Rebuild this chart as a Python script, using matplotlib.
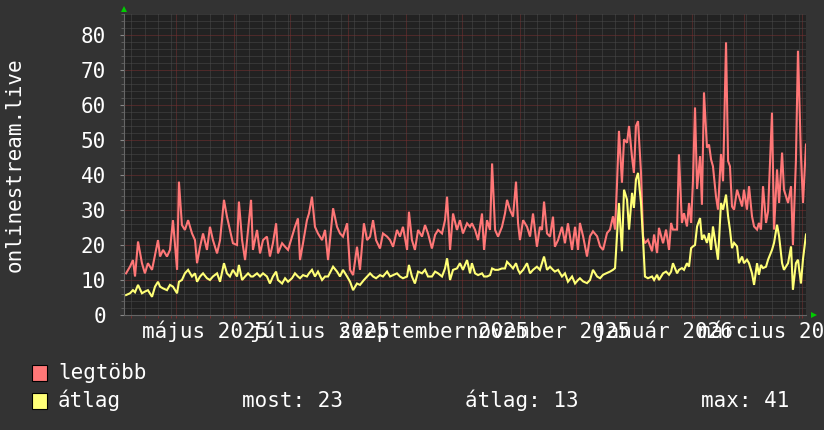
import numpy as np
import matplotlib
matplotlib.use('Agg')
import matplotlib.pyplot as plt
import matplotlib.dates as mdates
from matplotlib.ticker import MultipleLocator, NullFormatter
from matplotlib.patches import Rectangle
from datetime import datetime

###    Adatok    ###
start = datetime(2025, 4, 3)
end = datetime(2026, 4, 3)

# napok a kezdet ota
days = [1.1, 3.2, 4.8, 5.9, 7.5, 9.6, 11.2, 12.8, 15.0, 16.6, 18.2, 19.3, 20.9, 23.0, 24.6, 26.2,
        28.4, 29.4, 31.0, 32.6, 34.3, 36.4, 38.0, 39.1, 40.7, 42.3, 44.4, 46.0, 47.6, 49.8, 51.4,
        53.5, 55.1, 56.7, 58.3, 60.5, 61.5, 63.2, 64.8, 66.4, 68.0, 69.0, 71.2, 72.8, 74.4, 76.5,
        78.1, 79.7, 81.4, 82.4, 84.6, 86.2, 87.8, 89.9, 91.5, 93.1, 94.2, 95.8, 97.9, 99.0, 100.6,
        102.2, 103.8, 106.0, 107.6, 109.2, 111.9, 114.0, 115.6, 117.2, 119.4, 121.0, 122.6, 124.7,
        126.3, 128.4, 130.1, 131.7, 133.3, 134.9, 137.0, 138.6, 140.8, 142.4, 144.0, 146.1, 147.7,
        149.3, 151.5, 152.5, 154.1, 155.7, 157.4, 159.5, 161.1, 162.7, 164.8, 166.5, 168.1, 170.2,
        171.8, 172.9, 174.5, 176.1, 178.2, 179.8, 181.4, 183.6, 185.2, 186.2, 187.9, 189.5, 191.6,
        192.7, 194.3, 195.9, 197.0, 198.6, 200.2, 202.3, 203.9, 205.0, 206.6, 208.2, 209.8, 210.9,
        211.9, 213.6, 215.7, 217.3, 218.9, 221.0, 222.6, 223.7, 224.8, 226.4, 228.0, 229.6, 230.6,
        232.3, 234.4, 236.0, 237.6, 239.8, 241.4, 243.0, 244.0, 245.7, 247.8, 249.4, 251.0, 253.2,
        254.8, 256.4, 258.5, 260.1, 261.7, 262.8, 263.8, 264.9, 266.5, 267.6, 269.2, 270.3, 271.9,
        272.9, 274.0, 275.1, 276.7, 277.8, 278.8, 280.4, 282.6, 283.7, 285.3, 286.3, 288.5, 290.1,
        291.7, 292.8, 293.8, 296.0, 297.0, 298.6, 299.7, 301.3, 302.4, 303.5, 304.5, 305.6, 306.7,
        308.3, 309.3, 310.4, 312.0, 313.1, 314.2, 315.2, 316.8, 317.9, 319.5, 320.6, 322.2, 323.3,
        324.3, 325.4, 326.5, 328.1, 329.1, 330.8, 331.8, 333.4, 334.5, 336.1, 337.2, 338.8, 339.8,
        340.9, 342.0, 343.6, 344.7, 346.8, 347.9, 349.5, 350.6, 352.2, 353.2, 355.4, 357.0, 358.0,
        359.6, 360.7, 362.3, 363.4, 365.0]

legtobb = [11.9, 13.8, 15.7, 11.0, 21.0, 14.8, 11.9, 14.8, 12.9, 17.1, 21.4, 16.7, 18.6, 16.7, 18.6, 27.1,
           12.9, 38.1, 25.7, 24.3, 27.1, 23.3, 21.4, 14.8, 19.5, 23.3, 18.6, 25.2, 21.4, 17.6, 21.4,
           32.9, 28.1, 24.3, 20.5, 20.0, 32.4, 21.4, 15.7, 24.3, 32.9, 18.6, 24.3, 17.6, 21.4, 22.4,
           16.7, 20.5, 26.2, 17.6, 20.5, 19.5, 18.6, 22.4, 25.2, 27.6, 15.7, 20.5, 27.1, 29.0, 33.8,
           25.2, 23.3, 21.4, 24.3, 15.7, 30.5, 25.2, 23.3, 22.4, 26.2, 12.9, 11.4, 19.5,
           12.9, 26.2, 21.4, 22.4, 27.1, 21.4, 19.0, 23.3, 22.4, 21.4, 19.5, 24.3, 22.4,
           25.2, 18.6, 29.5, 21.4, 18.6, 24.3, 22.4, 25.7, 23.3, 19.0, 22.9, 24.3, 23.3,
           27.1, 33.8, 18.6, 29.0, 24.3, 27.1, 23.3, 26.2, 25.2, 26.2, 24.3, 21.4, 29.0,
           18.6, 27.1, 24.3, 43.3, 24.3, 22.4, 25.2, 29.0, 32.9, 30.0, 28.1, 38.1, 26.2,
           21.4, 27.1, 25.2, 22.4, 29.0, 19.5, 25.2, 24.3, 32.4, 23.3, 22.4, 28.1, 19.5,
           21.4, 25.2, 20.5, 26.2, 18.6, 25.2, 18.6, 26.3, 22.5, 16.7, 22.5, 23.9, 22.5,
           19.6, 18.6, 23.4, 24.4, 28.2, 24.4, 36.8, 52.6, 37.8, 50.2, 49.2, 54.0, 45.0,
           40.6, 54.0, 55.4, 40.6, 22.5, 20.5, 21.5, 18.2, 23.0, 17.7, 24.9, 20.5, 24.4,
           18.6, 26.3, 24.4, 24.4, 45.9, 26.3, 29.1, 25.3, 32.0, 26.3, 38.2, 59.3, 36.0,
           45.4, 31.5, 63.6, 47.8, 48.7, 44.4, 42.5, 34.0, 30.1, 46.0, 38.2, 77.9, 44.0,
           42.5, 31.0, 30.1, 35.8, 34.0, 31.0, 35.8, 30.1, 36.8, 28.2, 25.3, 24.4, 26.3,
           24.4, 36.8, 26.3, 29.6, 57.8, 24.4, 41.6, 32.0, 46.4, 35.8, 32.0, 36.8, 20.0,
           44.0, 75.5, 45.4, 32.0, 48.7]

atlag = [5.7, 6.2, 7.1, 6.5, 8.6, 6.2, 6.7, 7.1, 5.2, 8.1, 9.5, 8.1, 7.6, 7.1, 8.6, 8.1,
         6.2, 9.5, 10.0, 11.9, 12.9, 11.0, 11.9, 9.5, 11.0, 11.9, 10.5, 10.0, 11.0, 11.9, 9.5,
         14.8, 11.9, 11.0, 12.9, 11.0, 14.3, 10.0, 11.0, 11.9, 11.0, 11.0, 11.9, 11.0, 11.9, 11.0,
         9.0, 11.0, 12.4, 10.0, 9.0, 10.5, 9.5, 10.5, 11.9, 11.0, 10.5, 11.4, 11.0, 11.9, 12.9,
         11.0, 12.4, 10.0, 11.0, 11.0, 13.8, 12.4, 11.0, 12.9, 11.0, 9.5, 7.1, 9.0,
         8.6, 10.0, 11.0, 11.9, 11.0, 10.5, 11.4, 11.0, 12.4, 11.0, 11.4, 11.9, 11.0,
         10.5, 11.0, 14.3, 11.0, 9.0, 12.4, 11.9, 12.9, 11.0, 11.0, 12.4, 11.9, 11.0,
         13.3, 16.2, 10.0, 12.9, 13.3, 14.8, 12.9, 15.7, 11.9, 14.8, 11.9, 11.4, 11.9,
         11.0, 11.0, 11.4, 13.3, 12.9, 12.9, 13.3, 13.3, 15.2, 14.3, 13.3, 14.8, 12.9,
         11.9, 12.9, 14.8, 11.9, 12.9, 13.8, 12.9, 14.8, 16.7, 12.9, 13.8, 12.9, 12.4,
         12.9, 11.0, 11.9, 9.5, 11.0, 9.0, 10.0, 10.5, 9.6, 9.1, 10.0, 12.9, 11.0,
         10.5, 11.5, 12.0, 12.4, 12.9, 13.4, 22.5, 32.0, 18.2, 35.8, 33.0, 24.4, 34.9,
         30.6, 38.7, 40.6, 32.0, 21.5, 11.0, 10.5, 11.0, 10.0, 11.5, 10.0, 11.9, 12.4,
         11.5, 12.4, 14.8, 11.9, 12.9, 13.4, 12.9, 14.8, 13.8, 19.1, 19.6, 20.0, 25.3,
         27.7, 21.5, 22.9, 20.6, 23.4, 18.6, 25.3, 19.6, 15.8, 32.0, 30.1, 34.4, 28.2,
         24.4, 19.1, 20.6, 19.6, 14.8, 16.7, 14.8, 15.8, 14.8, 11.9, 8.6, 14.8, 11.5,
         14.3, 13.4, 13.8, 15.8, 18.6, 20.6, 25.8, 22.5, 14.8, 12.9, 14.8, 19.6, 7.2,
         14.8, 15.8, 9.0, 16.0, 23.0]

series_names = ['legtöbb', 'átlag']
stat_names = ['most', 'átlag', 'max']
stat_values = [23, 13, 41]

label_months = [(2025, 5), (2025, 7), (2025, 9), (2025, 11), (2026, 1), (2026, 3)]
month_labels = ['május 2025', 'július 2025', 'szeptember 2025', 'november 2025',
                'január 2026', 'március 2026']

###    Stilus    ###
BACK = '#333333'
CANVAS = '#222222'
FONT = '#FFFFFF'
RED = '#FF7777'
YEL = '#FFFF77'
MONO = ['DejaVu Sans Mono']
fs = 15

plt.rcParams['font.family'] = MONO
plt.rcParams['lines.scale_dashes'] = False

W, H = 824, 430
fig = plt.figure(figsize=(W / 100, H / 100), dpi=100, facecolor=BACK)
ax = fig.add_axes([124 / W, 1 - 315 / H, 682 / W, 301 / H], facecolor=CANVAS)

t0 = mdates.date2num(start)
x = t0 + np.array(days)

ax.set_xlim(t0, mdates.date2num(end))
ax.set_ylim(0, 86)

# racs
ax.xaxis.set_major_locator(mdates.MonthLocator())
ax.xaxis.set_minor_locator(mdates.WeekdayLocator(byweekday=mdates.MO))
ax.yaxis.set_major_locator(MultipleLocator(10))
ax.yaxis.set_minor_locator(MultipleLocator(2))
ax.grid(which='minor', color='#4a4a4a', linewidth=0.72, linestyle=(0, (0.72, 0.72)))
ax.grid(which='major', color='#7a3030', linewidth=0.72, linestyle=(0, (0.72, 0.72)))
ax.set_axisbelow(True)

ax.xaxis.set_major_formatter(NullFormatter())
ax.xaxis.set_minor_formatter(NullFormatter())
ax.tick_params(axis='x', which='both', length=2, color='#7a3030', direction='out')
ax.tick_params(axis='y', which='major', length=3, color='#888888', labelcolor=FONT,
               labelsize=fs, pad=10)
ax.tick_params(axis='y', which='minor', length=2, color='#666666')

for s in ['top', 'right']:
    ax.spines[s].set_visible(False)
for s in ['left', 'bottom']:
    ax.spines[s].set_color('#666666')
    ax.spines[s].set_linewidth(0.8)

ax.plot(x, legtobb, color=RED, linewidth=1.5, solid_joinstyle='miter')
ax.plot(x, atlag, color=YEL, linewidth=1.5, solid_joinstyle='miter')

# nyilak
ax.plot([0], [1.016], marker='^', color='#00CC00', markersize=5, transform=ax.transAxes,
        clip_on=False, markeredgewidth=0)
ax.plot([1.012], [0], marker='>', color='#00CC00', markersize=5, transform=ax.transAxes,
        clip_on=False, markeredgewidth=0)

# honap feliratok, a honap kozepere
for (yy, mm), lab in zip(label_months, month_labels):
    a = mdates.date2num(datetime(yy, mm, 1))
    b = mdates.date2num(datetime(yy + (mm // 12), mm % 12 + 1, 1))
    ax.text((a + b) / 2, -23 / 301, lab, transform=ax.get_xaxis_transform(),
            ha='center', va='baseline', color=FONT, fontsize=fs, clip_on=False)

# y felirat
fig.text(15 / W, 1 - 165 / H, 'onlinestream.live', rotation=90, ha='center', va='center',
         color=FONT, fontsize=fs)

# jelmagyarazat
for i, (name, col) in enumerate(zip(series_names, [RED, YEL])):
    top = 365 + 28 * i
    fig.patches.append(Rectangle((32 / W, 1 - (top + 16) / H), 15 / W, 16 / H,
                                 transform=fig.transFigure, facecolor=col,
                                 edgecolor='black', linewidth=0.8))
    fig.text(58 / W, 1 - (top + 14) / H, name, color=FONT, fontsize=fs, va='baseline')

for xs, n, v in zip([242, 465, 701], stat_names, stat_values):
    fig.text(xs / W, 1 - 407 / H, f'{n}: {v}', color=FONT, fontsize=fs, va='baseline')

fig.savefig('out.png', dpi=100, facecolor=BACK)
